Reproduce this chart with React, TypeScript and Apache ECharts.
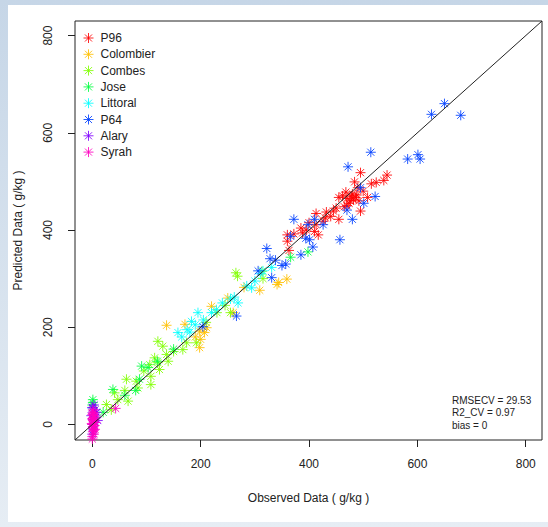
import React, { useEffect, useRef } from "react";
import * as echarts from "echarts";

const categories = ["P96", "Colombier", "Combes", "Jose", "Littoral", "P64", "Alary", "Syrah"];
const colors = ["#FF0000", "#FFBF00", "#80FF00", "#00FF40", "#00FFFF", "#0040FF", "#8000FF", "#FF00BF"];

const p96: number[][] = [
  [495, 518], [484, 499], [524, 498], [538, 502], [544, 513], [455, 467], [480, 474], [476, 460],
  [486, 467], [492, 460], [508, 467], [470, 450], [495, 439], [455, 422], [445, 439], [432, 437],
  [413, 434], [426, 418], [413, 411], [410, 397], [385, 404], [388, 394], [360, 390], [360, 377],
  [363, 358], [417, 390], [470, 465], [478, 470], [482, 462], [488, 472], [474, 455], [465, 448],
  [500, 480], [440, 428], [450, 445], [395, 400], [372, 392], [400, 415], [430, 425], [462, 470],
  [468, 478], [490, 487], [515, 495],
];
const colombier: number[][] = [
  [137, 204], [171, 206], [198, 192], [207, 189], [198, 158], [211, 199], [220, 243], [260, 230],
  [309, 276], [341, 288], [359, 299], [344, 292], [280, 282], [200, 175], [190, 180], [250, 260],
];
const combes: number[][] = [
  [121, 171], [137, 144], [115, 137], [124, 113], [108, 99], [108, 82], [84, 75], [81, 89],
  [63, 93], [41, 65], [26, 41], [66, 48], [47, 51], [121, 127], [130, 161], [106, 123],
  [174, 168], [192, 168], [167, 154], [313, 315], [315, 300], [265, 312], [268, 305], [150, 150],
  [95, 110], [140, 130], [60, 70], [35, 30], [230, 230], [245, 245], [210, 210], [255, 230],
];
const jose: number[][] = [
  [91, 120], [38, 72], [1, 51], [1, 45], [87, 93], [103, 117], [366, 344], [398, 355],
  [60, 60], [20, 25], [0, 40], [120, 130], [150, 155], [80, 70],
];
const littoral: number[][] = [
  [195, 230], [158, 189], [183, 212], [220, 230], [269, 250], [229, 236], [300, 295], [294, 281],
  [331, 323], [180, 190], [190, 205], [205, 215], [240, 250], [255, 258], [285, 285], [310, 310],
  [165, 180], [175, 195], [262, 262], [315, 316],
];
const p64: number[][] = [
  [514, 560], [472, 530], [582, 546], [601, 555], [605, 546], [495, 487], [522, 469], [501, 455],
  [470, 441], [480, 422], [426, 411], [410, 422], [372, 422], [398, 411], [366, 387], [394, 383],
  [401, 380], [407, 365], [457, 380], [385, 349], [322, 362], [328, 341], [338, 338], [350, 327],
  [357, 330], [306, 316], [331, 302], [204, 201], [266, 223], [0, 34], [626, 638], [650, 660],
  [680, 636],
];
const alary: number[][] = [
  [0, 0], [2, 10], [3, 20], [5, 30], [0, 35], [1, -5], [4, 5], [6, 15], [8, 25], [2, -10],
  [3, 40], [10, 8], [-2, 18], [0, -20],
];
const syrah: number[][] = [
  [0, -25], [1, -15], [2, -5], [0, 0], [3, 5], [1, 10], [4, 15], [0, 20], [2, 25], [5, -10],
  [3, -20], [1, 30], [-1, 2], [2, 8], [4, -2], [0, 12], [3, 18], [1, -8], [6, 4], [0, -30],
  [43, 33], [2, 14], [1, 22], [3, -12],
];
const seriesData = [p96, colombier, combes, jose, littoral, p64, alary, syrah];

const tickValues = [0, 200, 400, 600, 800];
const axisMin = -32;
const axisMax = 830;
const statLines = ["RMSECV = 29.53", "R2_CV = 0.97", "bias = 0"];

const STAR = "path://M0,5L10,5M5,0L5,10M1.46,1.46L8.54,8.54M8.54,1.46L1.46,8.54";
const FONT = "Liberation Sans, Arial, Helvetica, sans-serif";

export default function App() {
  const ref = useRef<HTMLDivElement>(null);
  useEffect(() => {
    if (!ref.current) return;
    const chart = echarts.init(ref.current, undefined, { renderer: "svg" });
    const scatter = categories.map((name, i) => ({
      name,
      type: "scatter",
      data: seriesData[i],
      symbol: STAR,
      symbolSize: 10,
      itemStyle: { color: "rgba(0,0,0,0)", borderColor: colors[i], borderWidth: 1, opacity: 0.85 },
      emphasis: { disabled: true },
      z: 3,
    }));
    chart.setOption({
      animation: false,
      graphic: [
        {
          type: "rect",
          shape: { x: 0, y: 0, width: 548, height: 527 },
          style: {
            fill: new echarts.graphic.LinearGradient(0, 0, 0, 1, [
              { offset: 0, color: "#c6d6e7" },
              { offset: 1, color: "#e6edf4" },
            ]),
          },
          z: -10,
          silent: true,
        },
        {
          type: "rect",
          shape: { x: 8, y: 5, width: 540, height: 517 },
          style: { fill: "#ffffff" },
          z: -9,
          silent: true,
        },
        ...statLines.map((t, i) => ({
          type: "text",
          left: 452,
          top: 395 + i * 12.5,
          style: { text: t, font: `10px ${FONT}`, fill: "#222" },
          z: 10,
        })),
      ],
      grid: {
        left: 75,
        right: 6,
        top: 21,
        bottom: 87,
        show: true,
        borderColor: "#222",
        borderWidth: 1,
        backgroundColor: "transparent",
      },
      legend: {
        orient: "vertical",
        left: 83,
        top: 31,
        padding: 0,
        itemWidth: 10,
        itemHeight: 10,
        itemGap: 2.3,
        textStyle: { fontFamily: FONT, fontSize: 12, color: "#222", lineHeight: 14, padding: [0, 0, 0, 2] },
        data: categories.map((name, i) => ({
          name,
          icon: STAR,
          itemStyle: { color: "rgba(0,0,0,0)", borderColor: colors[i], borderWidth: 1 },
        })),
        selectedMode: false,
      },
      xAxis: {
        type: "value",
        min: axisMin,
        max: axisMax,
        name: "Observed Data ( g/kg )",
        nameLocation: "middle",
        nameGap: 52,
        nameTextStyle: { fontFamily: FONT, fontSize: 12, color: "#222" },
        axisLine: { show: false, onZero: false },
        axisTick: { show: true, inside: false, length: 7, customValues: tickValues, lineStyle: { color: "#222" } },
        axisLabel: { customValues: tickValues, fontFamily: FONT, fontSize: 12, color: "#222", margin: 18 },
        splitLine: { show: false },
      },
      yAxis: {
        type: "value",
        min: axisMin,
        max: axisMax,
        name: "Predicted Data ( g/kg )",
        nameLocation: "middle",
        nameGap: 51,
        nameTextStyle: { fontFamily: FONT, fontSize: 12, color: "#222" },
        axisLine: { show: false, onZero: false },
        axisTick: { show: true, inside: false, length: 7, customValues: tickValues, lineStyle: { color: "#222" } },
        axisLabel: { customValues: tickValues, rotate: 90, fontFamily: FONT, fontSize: 12, color: "#222", margin: 21 },
        splitLine: { show: false },
      },
      series: [
        {
          name: "identity",
          type: "line",
          data: [[axisMin, axisMin], [axisMax, axisMax]],
          showSymbol: false,
          symbol: "none",
          lineStyle: { color: "#222", width: 1 },
          silent: true,
          z: 5,
        },
        ...scatter,
      ],
    });
    return () => chart.dispose();
  }, []);
  return <div ref={ref} style={{ position: "absolute", left: 0, top: 0, width: 548, height: 527 }} />;
}
